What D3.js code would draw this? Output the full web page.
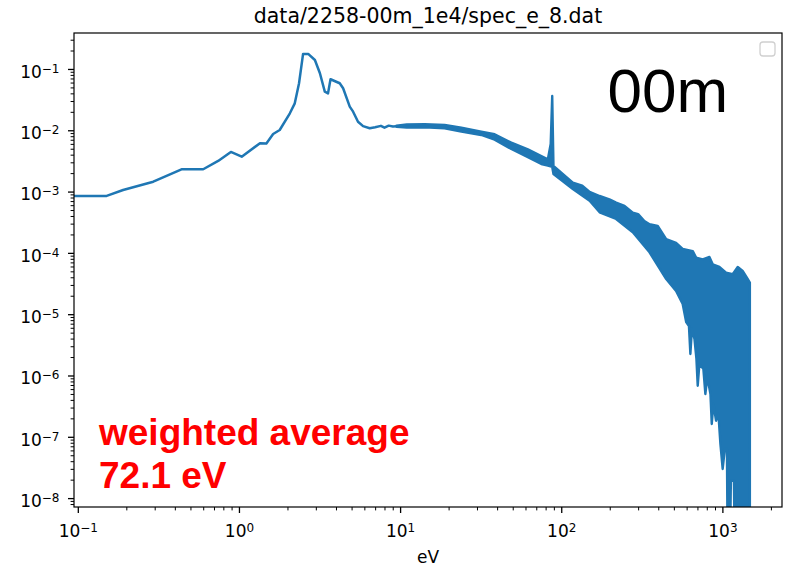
<!DOCTYPE html>
<html>
<head>
<meta charset="utf-8">
<script src="https://cdn.jsdelivr.net/npm/d3@7"></script>
<style>
  body { margin: 0; background: #fff; }
  svg { display: block; }
  text { font-family: "DejaVu Sans", sans-serif; fill: #000; }
  text.note { font-family: "Liberation Sans", Arial, sans-serif; }
</style>
</head>
<body>
<svg id="chart" width="787" height="572"></svg>
<script>
// Smooth low-energy part of the spectrum (eV -> value)
const lowEnergy = [0.094, 0.151, 0.191, 0.294, 0.44, 0.60, 0.743, 0.891, 1.04, 1.35, 1.48, 1.63, 1.79,
	2.07, 2.22, 2.36, 2.50, 2.69, 2.96, 3.18, 3.41, 3.57, 3.70, 4.22, 4.43, 4.87, 5.11, 5.48, 5.89,
	6.48, 7.0, 7.6, 8.0, 8.5, 9.03, 9.5];
const lowValue = [8.5e-4, 8.5e-4, 1.06e-3, 1.45e-3, 2.31e-3, 2.31e-3, 3.16e-3, 4.43e-3, 3.71e-3, 6.14e-3, 6.1e-3, 8.7e-3, 1.01e-2,
	1.89e-2, 2.75e-2, 5.85e-2, 0.176, 0.176, 0.140, 0.085, 0.0426, 0.040, 0.068, 0.0585, 0.0484, 0.0243, 0.0201, 0.0138, 0.0117,
	0.0108, 0.0112, 0.0118, 0.0110, 0.0119, 0.0115, 0.0116];

// Noisy part above ~9 eV, drawn as the band the line fills: upper envelope...
const bandTopEnergy = [9.5, 11.0, 14.2, 18.9, 24.0, 31.9, 38.6, 49.0, 62.1, 75.2, 82.6, 86.0, 87.9, 89.5,
	118, 135, 150, 173, 199, 219, 247, 278, 300, 328, 353, 397, 448, 516, 567, 655, 687, 755, 831, 871, 958,
	1054, 1159, 1245, 1336, 1435, 1481];
const bandTopValue = [0.0119, 0.0124, 0.01253, 0.0122, 0.01102, 0.00949, 0.0086, 0.00628, 0.0049, 0.00381, 0.00336, 0.00598, 0.0363, 0.00262,
	0.0014, 1.25e-3, 9.85e-4, 8.47e-4, 7.49e-4, 6.59e-4, 5.82e-4, 4.53e-4, 4.3e-4, 3.31e-4, 2.93e-4, 2.75e-4, 1.67e-4, 1.45e-4, 1.16e-4, 1.07e-4, 8.36e-5, 7.86e-5, 8.57e-5, 6.52e-5, 5.89e-5,
	4.75e-5, 4.48e-5, 5.89e-5, 5.07e-5, 3.75e-5, 3.27e-5];

// ...and lower envelope, with the deep dips near 1 keV
const bandBottomEnergy = [9.5, 11.0, 14.2, 18.9, 24.0, 31.9, 38.6, 49.0, 62.1, 75.2, 82.6, 87.9, 89.5,
	118, 150, 173, 219, 278, 353, 448, 516, 567, 596, 620, 633, 647, 671, 690, 703, 720, 762, 784, 807,
	843, 859, 880, 914, 945, 972, 1004, 1036, 1067, 1079, 1113, 1129, 1179, 1196, 1481];
const bandBottomValue = [0.0114, 0.0111, 0.0112, 0.01079, 0.00949, 0.00838, 0.00703, 0.00495, 0.00363, 0.00282, 0.00265, 0.00252, 0.00194,
	0.0011, 7.11e-4, 4.59e-4, 3.57e-4, 2.17e-4, 1.02e-4, 3.75e-5, 2.39e-5, 1.47e-5, 7.46e-6, 6.42e-6, 2.24e-6, 5.74e-6, 3.94e-6, 1.86e-6, 6.82e-7, 1.54e-6, 1.28e-6, 4.99e-7, 9.45e-7,
	4.99e-7, 1.62e-7, 3.43e-7, 1.83e-7, 2.35e-7, 7.64e-8, 2.99e-8, 6.33e-8, 6.33e-8, 1e-9, 1e-9, 1.92e-8, 1.92e-8, 1e-9, 1e-9];

const xTickExps = [-1, 0, 1, 2, 3];
const yTickExps = [-8, -7, -6, -5, -4, -3, -2, -1];

const COLOR = '#1f77b4';
const M = { left: 74, top: 33 };
const PLOT_W = 708;
const PLOT_H = 474;

const svg = d3.select('#chart');
const g = svg.append('g').attr('transform', `translate(${M.left},${M.top})`);

const x = d3.scaleLog().domain([0.0947, 2344]).range([0, PLOT_W]);
const y = d3.scaleLog().domain([7.16e-9, 0.386]).range([PLOT_H, 0]);

svg.append('defs').append('clipPath').attr('id', 'plot-clip')
	.append('rect').attr('width', PLOT_W).attr('height', PLOT_H);

// minor ticks 2..9 within each decade
function minorTicks(scale) {
	const [lo, hi] = scale.domain();
	const out = [];
	for (let e = Math.floor(Math.log10(lo)); e <= Math.ceil(Math.log10(hi)); e++) {
		for (let k = 2; k <= 9; k++) {
			const v = k * Math.pow(10, e);
			if (v >= lo && v <= hi) out.push(v);
		}
	}
	return out;
}

const supLabel = (sel, exp) => {
	sel.text('10');
	sel.append('tspan').attr('dy', '-0.42em').attr('font-size', '12px')
		.text(String(exp).replace('-', '\u2212'));
};

// x axis
const xAxis = g.append('g').attr('transform', `translate(0,${PLOT_H})`);
xAxis.append('g').call(d3.axisBottom(x).tickValues(minorTicks(x)).tickSize(3.4).tickFormat(''))
	.call((s) => s.select('.domain').remove())
	.call((s) => s.selectAll('line').attr('stroke-width', 1));
xAxis.append('g').call(d3.axisBottom(x).tickValues(xTickExps.map((e) => Math.pow(10, e))).tickSize(6))
	.call((s) => s.select('.domain').remove())
	.call((s) => s.selectAll('line').attr('stroke-width', 1.3))
	.call((s) => s.selectAll('text')
		.attr('font-size', '17px').attr('font-family', '"DejaVu Sans", sans-serif')
		.attr('y', 29.7).attr('dy', 0)
		.each(function (d) { supLabel(d3.select(this), Math.round(Math.log10(d))); }));

// y axis
const yAxis = g.append('g');
yAxis.append('g').call(d3.axisLeft(y).tickValues(minorTicks(y)).tickSize(3.4).tickFormat(''))
	.call((s) => s.select('.domain').remove())
	.call((s) => s.selectAll('line').attr('stroke-width', 1));
yAxis.append('g').call(d3.axisLeft(y).tickValues(yTickExps.map((e) => Math.pow(10, e))).tickSize(6))
	.call((s) => s.select('.domain').remove())
	.call((s) => s.selectAll('line').attr('stroke-width', 1.3))
	.call((s) => s.selectAll('text')
		.attr('font-size', '17px').attr('font-family', '"DejaVu Sans", sans-serif')
		.attr('x', -14.5).attr('dy', 8.3)
		.each(function (d) { supLabel(d3.select(this), Math.round(Math.log10(d))); }));

// data
const plot = g.append('g').attr('clip-path', 'url(#plot-clip)');
const line = d3.line().x((d) => x(d[0])).y((d) => y(d[1]));

const bandPts = bandTopEnergy.map((e, i) => [e, bandTopValue[i]])
	.concat(bandBottomEnergy.map((e, i) => [e, bandBottomValue[i]]).reverse());
plot.append('path')
	.attr('d', line(bandPts) + 'Z')
	.attr('fill', COLOR).attr('stroke', COLOR)
	.attr('stroke-width', 2.4).attr('stroke-linejoin', 'round');

plot.append('path')
	.attr('d', line(lowEnergy.map((e, i) => [e, lowValue[i]])))
	.attr('fill', 'none').attr('stroke', COLOR)
	.attr('stroke-width', 2.5).attr('stroke-linejoin', 'round');

// frame
g.append('rect').attr('width', PLOT_W).attr('height', PLOT_H)
	.attr('fill', 'none').attr('stroke', '#000').attr('stroke-width', 1.2);

// empty legend box
g.append('rect').attr('x', 760 - M.left).attr('y', 42 - M.top).attr('width', 15).attr('height', 14)
	.attr('rx', 3).attr('fill', '#fff').attr('fill-opacity', 0.8)
	.attr('stroke', '#d0d0d0').attr('stroke-width', 1.3);

// title and axis label
svg.append('text').attr('x', M.left + PLOT_W / 2).attr('y', 22.5)
	.attr('text-anchor', 'middle').attr('font-size', '20.5px')
	.text('data/2258-00m_1e4/spec_e_8.dat');
svg.append('text').attr('x', M.left + PLOT_W / 2).attr('y', 563)
	.attr('text-anchor', 'middle').attr('font-size', '17px').text('eV');

// annotations
svg.append('text').attr('class', 'note').attr('x', 607.5).attr('y', 111.5)
	.attr('font-size', '62px').text('00m');
svg.append('text').attr('class', 'note').attr('x', 99).attr('y', 445)
	.attr('font-size', '37px').attr('font-weight', 'bold').style('fill', '#ff0000')
	.text('weighted average');
svg.append('text').attr('class', 'note').attr('x', 99).attr('y', 488)
	.attr('font-size', '37px').attr('font-weight', 'bold').style('fill', '#ff0000')
	.text('72.1 eV');
</script>
</body>
</html>
